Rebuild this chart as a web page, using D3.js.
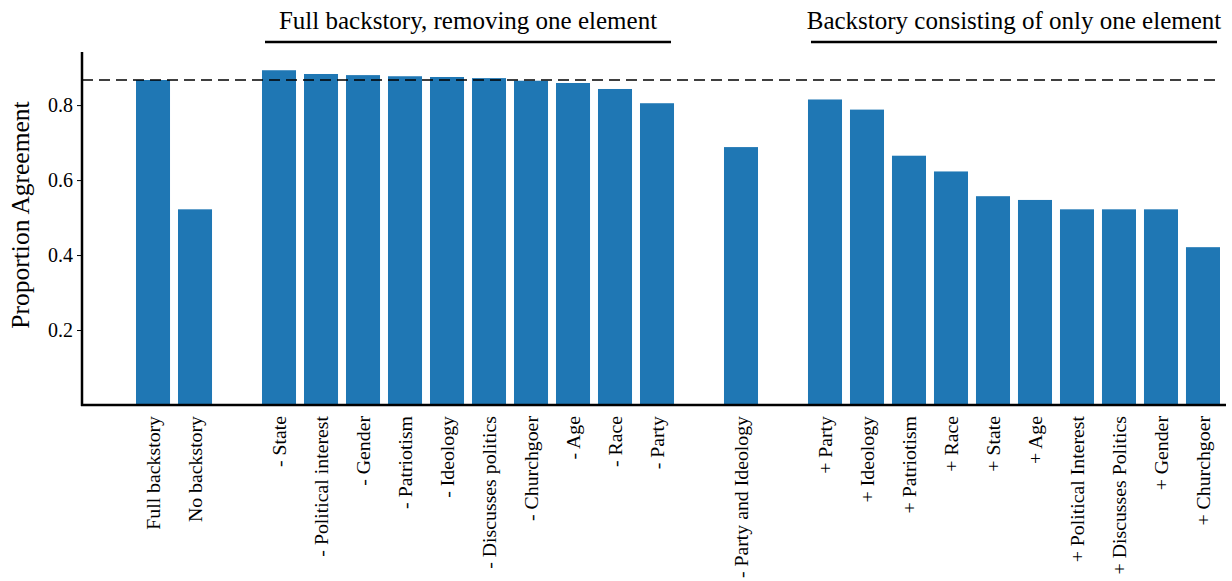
<!DOCTYPE html>
<meta charset="utf-8">
<head>
    <title>Proportion Agreement</title>
</head>
<style>
    body { margin: 0; background: #fff; }
    text { font-family: "Liberation Serif", "DejaVu Serif", serif; fill: #000; }
    .bar { fill: #1f77b4; }
</style>
<body>
<script src="https://d3js.org/d3.v7.min.js"></script>
<script>
// categories (empty strings are the spacer slots between groups)
var categories = [
    "Full backstory", "No backstory", "",
    "- State", "- Political interest", "- Gender", "- Patriotism", "- Ideology",
    "- Discusses politics", "- Churchgoer", "- Age", "- Race", "- Party", "",
    "- Party and Ideology", "",
    "+ Party", "+ Ideology", "+ Patriotism", "+ Race", "+ State", "+ Age",
    "+ Political Interest", "+ Discusses Politics", "+ Gender", "+ Churchgoer"
];
var values = [
    0.867, 0.522, null,
    0.893, 0.883, 0.880, 0.877, 0.875, 0.872, 0.865, 0.859, 0.843, 0.805, null,
    0.688, null,
    0.815, 0.788, 0.665, 0.623, 0.557, 0.547, 0.522, 0.522, 0.522, 0.421
];
var yTicks = [0.2, 0.4, 0.6, 0.8];
var reference = 0.867;
var groups = [
    { title: "Full backstory, removing one element", from: 3, to: 12 },
    { title: "Backstory consisting of only one element", from: 16, to: 25 }
];

var width = 1232, height = 581;
var svg = d3.select("body").append("svg")
    .attr("width", width)
    .attr("height", height);

var slots = categories.map(function (d, i) { return i; });
var x = d3.scaleBand().domain(slots).range([136, 1220]).paddingInner(0.19).paddingOuter(0);
var y = d3.scaleLinear().domain([0, 0.939]).range([405, 53]);

var data = slots.map(function (i) { return { i: i, name: categories[i], value: values[i] }; })
    .filter(function (d) { return d.value !== null; });

// bars
svg.selectAll("rect.bar")
    .data(data)
    .enter().append("rect")
    .attr("class", "bar")
    .attr("x", function (d) { return x(d.i); })
    .attr("width", x.bandwidth())
    .attr("y", function (d) { return y(d.value); })
    .attr("height", function (d) { return y(0) - y(d.value); });

// dashed reference line
svg.append("line")
    .attr("x1", 82).attr("x2", 1220)
    .attr("y1", y(reference)).attr("y2", y(reference))
    .attr("stroke", "#000").attr("stroke-width", 1.3)
    .attr("stroke-dasharray", "11,6");

// y axis
var yAxis = svg.append("g")
    .attr("transform", "translate(82,0)")
    .attr("font-family", null)
    .call(d3.axisLeft(y).tickValues(yTicks).tickFormat(d3.format(".1f")).tickSize(5).tickPadding(4));
yAxis.attr("font-family", "'Liberation Serif', serif");
yAxis.select(".domain").remove();
yAxis.selectAll(".tick line").attr("stroke", "#000").attr("stroke-width", 1);
yAxis.selectAll(".tick text")
    .attr("fill", "#000")
    .style("font-size", "20px")
    .style("font-family", "'Liberation Serif', serif");

svg.append("line")
    .attr("x1", 82).attr("x2", 82).attr("y1", 52).attr("y2", 406)
    .attr("stroke", "#000").attr("stroke-width", 2.5);
svg.append("line")
    .attr("x1", 81).attr("x2", 1226).attr("y1", 405).attr("y2", 405)
    .attr("stroke", "#000").attr("stroke-width", 2.5);

svg.append("text")
    .attr("transform", "translate(29,215) rotate(-90)")
    .attr("text-anchor", "middle")
    .style("font-size", "25.5px")
    .text("Proportion Agreement");

// x labels
svg.selectAll("text.xlab")
    .data(data)
    .enter().append("text")
    .attr("class", "xlab")
    .attr("transform", function (d) {
        return "translate(" + (x(d.i) + x.bandwidth() / 2) + ",416) rotate(-90)";
    })
    .attr("text-anchor", "end")
    .attr("dy", "0.35em")
    .style("font-size", "19.8px")
    .text(function (d) { return d.name; });

// group headers
groups.forEach(function (g) {
    var x1 = x(g.from) + 3, x2 = x(g.to) + x.bandwidth() - 3;
    svg.append("line")
        .attr("x1", x1).attr("x2", x2).attr("y1", 42).attr("y2", 42)
        .attr("stroke", "#000").attr("stroke-width", 2.5);
    svg.append("text")
        .attr("x", (x1 + x2) / 2).attr("y", 29)
        .attr("text-anchor", "middle")
        .style("font-size", "25px")
        .text(g.title);
});
</script>
</body>
</html>
